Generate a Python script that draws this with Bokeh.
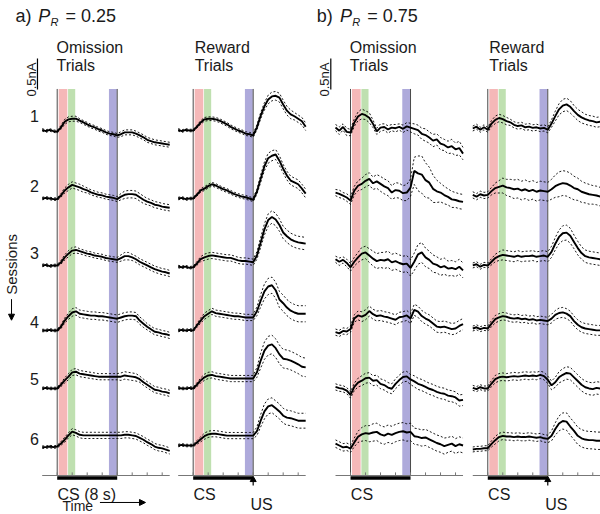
import numpy as np
from bokeh.plotting import figure
from bokeh.models import Range1d, Arrow, NormalHead
from bokeh.core.properties import value
from bokeh.embed import file_html
from bokeh.resources import INLINE

# ---------------- data ----------------
time_s = [-2.0, -1.5, -1.0, -0.5, 0.0, 0.5, 1.0, 1.5, 2.0, 2.5, 3.0, 3.5,
          4.0, 4.5, 5.0, 5.5, 6.0, 6.5, 7.0, 7.5, 8.0, 8.5, 9.0, 9.5,
          10.0, 10.5, 11.0, 11.5, 12.0, 12.5, 13.0, 13.5, 14.0, 14.5, 15.0]

session_labels = ["1", "2", "3", "4", "5", "6"]

# a) P_R = 0.25, omission trials (mean current, nA, relative to baseline)
ao1 = [0.01, -0.01, 0.01, -0.01, -0.02, 0.05, 0.14, 0.18, 0.19, 0.19, 0.16, 0.13, 0.10, 0.07, 0.05,
       0.02, 0.00, -0.03, -0.05, -0.06, -0.08, -0.06, -0.03, -0.03, -0.03, -0.05, -0.08, -0.11, -0.15, -0.17,
       -0.19, -0.20, -0.21, -0.22, -0.23]
ao2 = [0.00, 0.01, 0.00, -0.01, -0.01, 0.05, 0.13, 0.18, 0.22, 0.20, 0.18, 0.15, 0.13, 0.10, 0.08,
       0.06, 0.05, 0.03, 0.02, 0.01, -0.01, 0.03, 0.06, 0.07, 0.07, 0.06, 0.02, -0.02, -0.05, -0.07,
       -0.10, -0.11, -0.13, -0.14, -0.15]
ao3 = [0.00, 0.01, -0.01, 0.00, 0.00, 0.05, 0.13, 0.19, 0.24, 0.25, 0.23, 0.21, 0.19, 0.18, 0.16,
       0.15, 0.14, 0.12, 0.11, 0.10, 0.09, 0.12, 0.15, 0.15, 0.13, 0.10, 0.06, 0.03, 0.00, -0.03,
       -0.06, -0.08, -0.10, -0.11, -0.13]
ao4 = [0.00, 0.00, 0.01, 0.00, 0.00, 0.06, 0.16, 0.23, 0.29, 0.31, 0.27, 0.26, 0.25, 0.24, 0.24,
       0.23, 0.23, 0.22, 0.21, 0.20, 0.19, 0.21, 0.23, 0.24, 0.24, 0.23, 0.16, 0.11, 0.06, 0.02,
       -0.02, -0.03, -0.05, -0.06, -0.08]
ao5 = [0.00, 0.01, 0.00, 0.00, 0.00, 0.06, 0.13, 0.19, 0.26, 0.27, 0.24, 0.23, 0.22, 0.21, 0.20,
       0.19, 0.19, 0.19, 0.19, 0.19, 0.19, 0.19, 0.21, 0.20, 0.19, 0.18, 0.15, 0.10, 0.06, 0.02,
       -0.02, -0.03, -0.05, -0.06, -0.08]
ao6 = [0.00, 0.00, 0.01, 0.00, 0.01, 0.06, 0.12, 0.19, 0.25, 0.23, 0.20, 0.19, 0.19, 0.19, 0.19,
       0.19, 0.19, 0.19, 0.19, 0.19, 0.19, 0.19, 0.20, 0.20, 0.19, 0.18, 0.15, 0.12, 0.08, 0.05,
       0.01, -0.01, -0.02, -0.04, -0.06]

# a) P_R = 0.25, reward trials
ar1 = [0.01, -0.01, 0.01, 0.00, 0.00, 0.06, 0.13, 0.18, 0.19, 0.19, 0.18, 0.16, 0.13, 0.10, 0.06,
       0.03, 0.00, -0.02, -0.05, -0.06, -0.08, 0.05, 0.24, 0.39, 0.50, 0.55, 0.56, 0.53, 0.42, 0.32,
       0.26, 0.23, 0.19, 0.15, 0.06]
ar2 = [0.00, 0.01, -0.01, 0.00, 0.00, 0.06, 0.13, 0.16, 0.20, 0.23, 0.21, 0.18, 0.15, 0.13, 0.10,
       0.07, 0.05, 0.03, 0.02, 0.00, -0.02, 0.11, 0.32, 0.52, 0.65, 0.69, 0.71, 0.61, 0.48, 0.37,
       0.29, 0.26, 0.23, 0.16, 0.08]
ar3 = [0.01, 0.00, 0.01, -0.01, 0.00, 0.06, 0.13, 0.16, 0.18, 0.19, 0.18, 0.17, 0.16, 0.15, 0.15,
       0.13, 0.11, 0.10, 0.10, 0.09, 0.08, 0.19, 0.40, 0.61, 0.76, 0.81, 0.77, 0.68, 0.56, 0.50,
       0.45, 0.42, 0.40, 0.39, 0.38]
ar4 = [0.00, 0.01, 0.00, 0.01, 0.00, 0.08, 0.16, 0.23, 0.27, 0.31, 0.28, 0.27, 0.26, 0.25, 0.24,
       0.23, 0.23, 0.22, 0.21, 0.21, 0.21, 0.31, 0.48, 0.63, 0.71, 0.73, 0.65, 0.50, 0.44, 0.37,
       0.32, 0.29, 0.27, 0.27, 0.27]
ar5 = [0.01, 0.00, 0.00, 0.01, 0.00, 0.06, 0.13, 0.18, 0.21, 0.22, 0.20, 0.19, 0.18, 0.17, 0.16,
       0.16, 0.16, 0.16, 0.16, 0.16, 0.16, 0.26, 0.45, 0.61, 0.69, 0.71, 0.65, 0.55, 0.48, 0.47,
       0.45, 0.42, 0.39, 0.35, 0.34]
ar6 = [0.00, 0.01, 0.00, 0.00, 0.00, 0.05, 0.10, 0.15, 0.18, 0.19, 0.19, 0.18, 0.17, 0.16, 0.16,
       0.16, 0.16, 0.16, 0.16, 0.16, 0.16, 0.23, 0.40, 0.55, 0.63, 0.65, 0.60, 0.55, 0.48, 0.45,
       0.44, 0.42, 0.40, 0.40, 0.40]

# b) P_R = 0.75, omission trials
bo1 = [0.02, -0.03, 0.03, -0.05, -0.06, 0.10, 0.20, 0.24, 0.22, 0.18, 0.08, -0.04, 0.02, 0.03, -0.01,
       0.02, 0.01, 0.03, 0.00, 0.04, 0.02, 0.00, -0.02, -0.08, -0.10, -0.14, -0.19, -0.17, -0.24, -0.26,
       -0.30, -0.28, -0.33, -0.31, -0.40]
bo2 = [0.02, 0.00, -0.03, -0.06, -0.11, 0.05, 0.13, 0.16, 0.21, 0.24, 0.17, 0.20, 0.16, 0.12, 0.09,
       0.02, 0.06, 0.05, 0.01, 0.02, 0.10, 0.37, 0.33, 0.31, 0.22, 0.18, 0.08, 0.04, 0.02, -0.02,
       -0.05, -0.09, -0.10, -0.12, -0.13]
bo3 = [0.02, -0.02, 0.01, -0.04, -0.11, -0.02, 0.05, 0.11, 0.13, 0.08, 0.03, -0.01, 0.01, 0.00, 0.02,
       -0.03, -0.01, -0.04, -0.06, -0.05, -0.12, -0.02, 0.10, 0.13, 0.05, 0.01, -0.05, -0.07, -0.11, -0.09,
       -0.13, -0.12, -0.14, -0.10, -0.16]
bo4 = [0.00, -0.02, 0.02, 0.01, 0.05, 0.22, 0.27, 0.25, 0.28, 0.34, 0.29, 0.26, 0.27, 0.25, 0.24,
       0.22, 0.20, 0.24, 0.25, 0.27, 0.22, 0.36, 0.33, 0.26, 0.22, 0.19, 0.14, 0.09, 0.08, 0.09,
       0.07, 0.05, 0.06, 0.10, 0.13]
bo5 = [0.03, 0.01, 0.00, -0.03, -0.10, 0.03, 0.10, 0.13, 0.17, 0.18, 0.13, 0.14, 0.08, 0.06, 0.02,
       0.00, 0.08, 0.14, 0.19, 0.20, 0.15, 0.12, 0.08, 0.06, 0.03, 0.00, -0.02, -0.05, -0.07, -0.08,
       -0.11, -0.12, -0.14, -0.19, -0.18]
bo6 = [0.03, 0.00, -0.03, -0.02, -0.05, 0.05, 0.14, 0.18, 0.20, 0.19, 0.21, 0.22, 0.18, 0.16, 0.19,
       0.17, 0.20, 0.22, 0.23, 0.21, 0.22, 0.15, 0.14, 0.12, 0.13, 0.10, 0.07, 0.04, 0.02, -0.01,
       0.01, 0.03, -0.01, 0.02, 0.00]

# b) P_R = 0.75, reward trials
br1 = [0.00, 0.03, -0.02, 0.02, -0.02, 0.08, 0.14, 0.17, 0.15, 0.12, 0.10, 0.06, 0.04, 0.05, 0.02,
       0.03, 0.01, 0.02, 0.00, 0.01, -0.02, 0.08, 0.20, 0.31, 0.37, 0.39, 0.35, 0.28, 0.22, 0.18,
       0.15, 0.13, 0.12, 0.10, 0.11]
br2 = [0.01, -0.02, 0.02, 0.00, 0.01, 0.07, 0.12, 0.14, 0.16, 0.13, 0.12, 0.10, 0.11, 0.08, 0.10,
       0.07, 0.09, 0.06, 0.08, 0.07, 0.06, 0.10, 0.15, 0.18, 0.20, 0.19, 0.16, 0.12, 0.10, 0.06,
       0.04, 0.02, 0.01, 0.00, -0.02]
br3 = [0.00, 0.02, -0.02, 0.01, 0.00, 0.06, 0.12, 0.15, 0.17, 0.16, 0.15, 0.14, 0.16, 0.14, 0.15,
       0.15, 0.16, 0.14, 0.15, 0.16, 0.14, 0.22, 0.35, 0.46, 0.52, 0.53, 0.48, 0.38, 0.28, 0.20,
       0.15, 0.13, 0.12, 0.11, 0.10]
br4 = [0.00, 0.02, -0.01, 0.01, 0.00, 0.08, 0.15, 0.18, 0.20, 0.19, 0.17, 0.16, 0.17, 0.15, 0.16,
       0.14, 0.15, 0.13, 0.14, 0.13, 0.12, 0.16, 0.22, 0.25, 0.26, 0.24, 0.20, 0.12, 0.06, 0.02,
       0.00, -0.01, -0.02, -0.03, -0.03]
br5 = [0.01, -0.01, 0.02, 0.00, 0.00, 0.08, 0.15, 0.18, 0.19, 0.18, 0.19, 0.20, 0.19, 0.20, 0.21,
       0.20, 0.21, 0.20, 0.22, 0.20, 0.14, 0.05, 0.10, 0.18, 0.22, 0.25, 0.24, 0.18, 0.12, 0.06,
       0.02, 0.00, -0.01, 0.01, 0.00]
br6 = [0.00, 0.01, 0.01, 0.02, 0.02, 0.09, 0.15, 0.20, 0.22, 0.21, 0.21, 0.20, 0.21, 0.20, 0.20,
       0.21, 0.20, 0.19, 0.20, 0.18, 0.17, 0.22, 0.33, 0.42, 0.46, 0.45, 0.37, 0.30, 0.22, 0.18,
       0.16, 0.15, 0.15, 0.14, 0.14]

# SEM (nA)
ao_sem1 = [.02, .02, .02, .02, .02, .03, .04, .04, .04, .04, .03, .03, .03, .03, .03, .03, .03, .03,
           .03, .03, .03, .04, .04, .04, .04, .04, .04, .04, .04, .04, .04, .04, .04, .04, .04]
ao_sem2 = [.02, .02, .02, .02, .02, .03, .04, .05, .05, .05, .05, .05, .04, .04, .04, .04, .04, .04,
           .04, .04, .04, .05, .06, .06, .06, .06, .06, .06, .05, .05, .05, .05, .05, .05, .05]
ao_sem3 = [.02, .02, .02, .02, .02, .03, .04, .05, .05, .05, .04, .04, .04, .04, .04, .04, .04, .04,
           .04, .04, .04, .05, .06, .06, .05, .05, .05, .05, .05, .05, .05, .05, .05, .05, .05]
ao_sem4 = [.02, .02, .02, .02, .02, .03, .04, .05, .06, .06, .06, .06, .06, .06, .06, .06, .06, .06,
           .06, .06, .06, .06, .06, .06, .06, .06, .06, .06, .05, .05, .05, .05, .05, .05, .05]
ao_sem5 = [.02, .02, .02, .02, .02, .03, .04, .05, .05, .05, .05, .05, .05, .05, .05, .05, .05, .05,
           .05, .05, .05, .06, .06, .06, .06, .06, .05, .05, .05, .05, .05, .05, .05, .05, .05]
ao_sem6 = [.02, .02, .02, .02, .02, .03, .04, .04, .05, .05, .05, .05, .05, .05, .05, .05, .05, .05,
           .05, .05, .05, .05, .05, .05, .05, .05, .05, .05, .05, .05, .05, .05, .05, .05, .05]

ar_sem1 = [.02, .02, .02, .02, .02, .02, .03, .03, .03, .03, .03, .03, .03, .03, .03, .03, .03, .03,
           .03, .03, .03, .04, .05, .06, .07, .07, .07, .07, .07, .07, .07, .06, .06, .06, .06]
ar_sem2 = [.02, .02, .02, .02, .02, .02, .03, .03, .03, .03, .03, .03, .03, .03, .03, .03, .03, .03,
           .03, .03, .03, .04, .06, .07, .08, .08, .08, .08, .07, .07, .07, .07, .07, .07, .07]
ar_sem3 = [.02, .02, .02, .02, .02, .03, .04, .05, .05, .05, .05, .05, .05, .05, .05, .05, .05, .05,
           .05, .05, .05, .06, .08, .09, .10, .10, .10, .10, .10, .10, .10, .10, .10, .10, .10]
ar_sem4 = [.02, .02, .02, .02, .02, .03, .04, .05, .05, .05, .05, .05, .05, .05, .05, .05, .05, .05,
           .05, .05, .05, .07, .10, .12, .13, .13, .13, .13, .13, .13, .13, .13, .13, .13, .13]
ar_sem5 = [.02, .02, .02, .02, .02, .03, .04, .05, .05, .05, .05, .05, .05, .05, .05, .05, .05, .05,
           .05, .05, .05, .08, .12, .14, .15, .15, .15, .15, .15, .15, .15, .15, .15, .15, .15]
ar_sem6 = [.02, .02, .02, .02, .02, .03, .04, .05, .05, .05, .05, .05, .05, .05, .05, .05, .05, .05,
           .05, .05, .05, .07, .10, .12, .12, .12, .12, .12, .12, .12, .12, .12, .12, .12, .12]

bo_sem1 = [.05, .06, .05, .06, .05, .06, .07, .08, .07, .08, .06, .05, .06, .05, .06, .05, .06, .05,
           .06, .06, .07, .08, .08, .09, .10, .09, .10, .09, .10, .09, .10, .11, .10, .11, .10]
bo_sem2 = [.05, .06, .05, .06, .06, .07, .08, .09, .10, .10, .10, .11, .12, .12, .12, .11, .12, .12,
           .12, .13, .14, .22, .28, .30, .28, .25, .22, .18, .15, .14, .13, .13, .12, .12, .12]
bo_sem3 = [.05, .06, .05, .06, .06, .07, .08, .10, .10, .11, .12, .12, .12, .13, .13, .13, .13, .13,
           .13, .13, .13, .14, .16, .16, .15, .14, .14, .13, .13, .13, .12, .12, .12, .12, .12]
bo_sem4 = [.05, .05, .05, .05, .05, .06, .07, .08, .08, .08, .08, .08, .08, .08, .08, .08, .08, .08,
           .08, .08, .08, .09, .09, .09, .09, .09, .09, .09, .09, .09, .09, .09, .09, .09, .09]
bo_sem5 = [.05, .05, .05, .05, .05, .06, .07, .08, .08, .08, .08, .08, .08, .08, .08, .08, .08, .08,
           .08, .08, .08, .09, .09, .09, .09, .09, .09, .09, .09, .09, .09, .09, .09, .09, .09]
bo_sem6 = [.06, .06, .06, .06, .06, .07, .09, .11, .12, .13, .14, .14, .14, .14, .14, .14, .14, .14,
           .14, .14, .14, .13, .13, .13, .13, .13, .13, .13, .13, .13, .12, .12, .12, .12, .12]

br_sem1 = [.04, .04, .04, .04, .04, .05, .06, .06, .06, .06, .05, .05, .05, .05, .05, .05, .05, .05,
           .05, .05, .05, .06, .08, .09, .10, .10, .10, .09, .09, .09, .08, .08, .08, .08, .08]
br_sem2 = [.05, .05, .05, .05, .05, .06, .08, .10, .12, .13, .14, .15, .15, .15, .15, .15, .15, .15,
           .15, .15, .15, .16, .18, .20, .20, .20, .20, .19, .18, .17, .16, .16, .15, .15, .15]
br_sem3 = [.04, .04, .04, .04, .04, .05, .06, .07, .08, .08, .08, .08, .08, .08, .08, .08, .08, .08,
           .08, .08, .08, .09, .10, .11, .12, .12, .12, .11, .11, .10, .10, .10, .10, .10, .10]
br_sem4 = [.04, .04, .04, .04, .04, .05, .06, .06, .06, .06, .06, .06, .06, .06, .06, .06, .06, .06,
           .06, .06, .06, .07, .07, .08, .08, .08, .08, .08, .08, .08, .08, .08, .08, .08, .08]
br_sem5 = [.04, .04, .04, .04, .04, .05, .06, .06, .06, .06, .06, .06, .06, .06, .06, .06, .06, .06,
           .06, .06, .06, .07, .08, .09, .10, .10, .10, .10, .10, .10, .10, .10, .10, .10, .10]
br_sem6 = [.04, .04, .04, .04, .04, .05, .06, .06, .06, .06, .06, .06, .06, .06, .06, .06, .06, .06,
           .06, .06, .06, .08, .10, .12, .13, .14, .14, .14, .14, .14, .14, .14, .14, .14, .14]

# event windows (s)
cs_window = (0.0, 8.0)
pink_window = (0.2, 1.35)
green_window = (1.45, 2.4)
purple_window = (6.9, 7.95)
tick_times = [0, 2, 4, 6, 8, 10, 12, 14]

# ---------------- layout ----------------
FONT = "Liberation Sans"
panel_x0 = [0.0, 18.13, 39.11, 57.41]
base_ao = [0.0, -1.097, -2.177, -3.226, -4.161, -5.108]
base_ar = [0.0, -1.097, -2.205, -3.226, -4.161, -5.081]
base_bo = [0.027, -1.021, -2.097, -3.253, -4.166, -5.081]
base_br = [0.032, -1.048, -2.177, -3.194, -4.161, -5.145]
band_top, band_bot = 0.67, -5.565
axis_y = -5.565

p = figure(width=600, height=514, x_range=Range1d(-7.56, 72.44), y_range=Range1d(-6.194, 2.097),
           x_axis_type=None, y_axis_type=None, output_backend="svg", toolbar_location=None,
           min_border=0)
p.grid.visible = False
p.outline_line_color = None
p.background_fill_color = "white"

t = np.array(time_s)
panels = [
    (panel_x0[0], [ao1, ao2, ao3, ao4, ao5, ao6], [ao_sem1, ao_sem2, ao_sem3, ao_sem4, ao_sem5, ao_sem6], base_ao, False),
    (panel_x0[1], [ar1, ar2, ar3, ar4, ar5, ar6], [ar_sem1, ar_sem2, ar_sem3, ar_sem4, ar_sem5, ar_sem6], base_ar, True),
    (panel_x0[2], [bo1, bo2, bo3, bo4, bo5, bo6], [bo_sem1, bo_sem2, bo_sem3, bo_sem4, bo_sem5, bo_sem6], base_bo, False),
    (panel_x0[3], [br1, br2, br3, br4, br5, br6], [br_sem1, br_sem2, br_sem3, br_sem4, br_sem5, br_sem6], base_br, True),
]

def txt(x, y, s, size="16px", align="left", baseline="alphabetic", angle=0.0, style="normal"):
    p.text(x=[x], y=[y], text=[s], text_font=value(FONT), text_font_size=value(size),
           text_align=align, text_baseline=baseline, angle=angle, text_color="#1a1a1a",
           text_font_style=style)

for x0, means, sems, bases, reward in panels:
    # event bands
    p.quad(left=[x0 + pink_window[0], x0 + green_window[0], x0 + purple_window[0]],
           right=[x0 + pink_window[1], x0 + green_window[1], x0 + purple_window[1]],
           top=band_top, bottom=band_bot,
           fill_color=["#f5b8b8", "#bfe0b0", "#aeaadb"], line_color=None)
    # CS onset / offset lines
    p.segment(x0=[x0 + cs_window[0], x0 + cs_window[1]], y0=band_bot,
              x1=[x0 + cs_window[0], x0 + cs_window[1]], y1=band_top,
              line_color="#4a4a4a", line_width=1)
    # time axis with ticks
    p.segment(x0=[x0 + time_s[0]], y0=[axis_y], x1=[x0 + time_s[-1]], y1=[axis_y],
              line_color="#777777", line_width=1)
    p.segment(x0=[x0 + v for v in tick_times], y0=axis_y, x1=[x0 + v for v in tick_times],
              y1=axis_y + 0.05, line_color="#777777", line_width=1)
    # CS bar
    p.segment(x0=[x0 + cs_window[0]], y0=[axis_y - 0.04], x1=[x0 + cs_window[1]], y1=[axis_y - 0.04],
              line_color="black", line_width=3.5)
    if reward:
        p.segment(x0=[x0 + cs_window[1]], y0=[axis_y - 0.08], x1=[x0 + cs_window[1]], y1=[axis_y - 0.16],
                  line_color="black", line_width=1.2)
        p.scatter(x=[x0 + cs_window[1]], y=[axis_y - 0.07], marker="triangle", size=6,
                  fill_color="black", line_color="black")
    # traces
    for m, s, b in zip(means, sems, bases):
        m = np.array(m); s = np.array(s)
        p.line(t + x0, b + m + s, line_color="black", line_width=0.9, line_dash="2 2")
        p.line(t + x0, b + m - s, line_color="black", line_width=0.9, line_dash="2 2")
        p.line(t + x0, b + m, line_color="black", line_width=1.9)

# titles
txt(-5.56, 1.84, "a)", size="18px")
txt(-2.53, 1.84, "P", size="18px", style="italic")
txt(-0.89, 1.745, "R", size="11px", style="italic")
txt(1.11, 1.84, "= 0.25", size="18px")
txt(34.6, 1.84, "b)", size="18px")
txt(37.7, 1.84, "P", size="18px", style="italic")
txt(39.34, 1.745, "R", size="11px", style="italic")
txt(41.34, 1.84, "= 0.75", size="18px")

# column headers
for x0, name in zip(panel_x0, ["Omission", "Reward", "Omission", "Reward"]):
    dx = 0.2 if name == "Reward" else -0.09
    txt(x0 + dx, 1.344, name)
    txt(x0 + dx, 1.048, "Trials")

# scale bars (0.5 nA)
for x0 in [panel_x0[0], panel_x0[2]]:
    p.segment(x0=[x0 - 2.63], y0=[0.66], x1=[x0 - 2.63], y1=[0.66 + 0.5], line_color="black", line_width=1.2)
    txt(x0 - 3.45, 0.823, "0.5nA", size="13px", align="center", baseline="middle", angle=np.pi / 2)

# session labels
label_dy = [0.234, 0.202, 0.194, 0.145, 0.153, 0.124]
for lab, b, dy in zip(session_labels, base_ao, label_dy):
    txt(-3.03, b + dy, lab, size="16px", align="center", baseline="middle")
txt(-6.09, -2.16, "Sessions", size="15px", align="center", baseline="middle", angle=np.pi / 2)
p.add_layout(Arrow(end=NormalHead(size=6, fill_color="black", line_color="black"),
                   x_start=-6.09, y_start=-2.72, x_end=-6.09, y_end=-3.06, line_width=1))

# bottom labels
txt(panel_x0[0] + 0.04, -5.87, "CS (8 s)")
txt(panel_x0[0] + 0.71, -6.06, "Time", size="14px")
p.add_layout(Arrow(end=NormalHead(size=6, fill_color="black", line_color="black"),
                   x_start=5.7, y_start=-6.0, x_end=11.77, y_end=-6.0, line_width=1))
for x0 in panel_x0[1:]:
    txt(x0 + 0.04, -5.87, "CS")
for x0 in [panel_x0[1], panel_x0[3]]:
    txt(x0 + cs_window[1] - 0.35, -6.03, "US")

open("out.html", "w").write(file_html(p, INLINE))
